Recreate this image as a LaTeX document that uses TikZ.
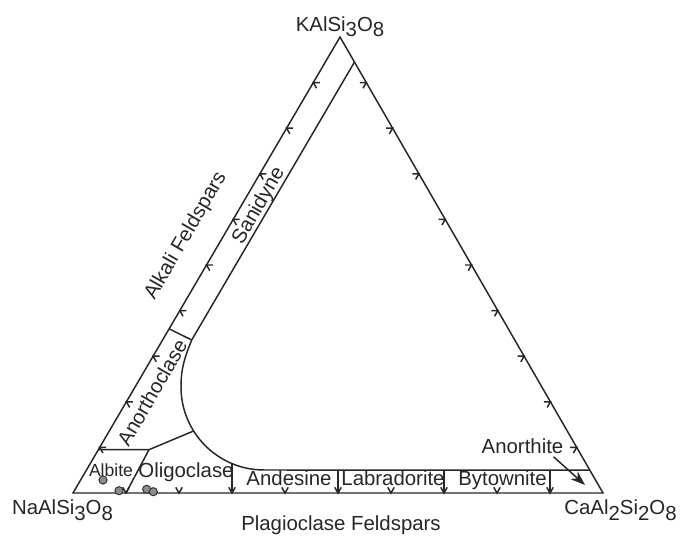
\documentclass[tikz,border=0pt]{standalone}
\usepackage{fontspec}
\setmainfont{Liberation Sans}
\usetikzlibrary{calc,arrows.meta}

\newcommand{\low}[1]{\raisebox{-0.27em}{#1}}

\begin{document}
\begin{tikzpicture}[
    x=0.025cm, y=0.025cm,
    edge/.style={line width=1.05pt, draw=black!85},
    lbl/.style={font=\fontsize{14.5}{17}\selectfont, text=black!85, inner sep=0pt},
    chev/.pic={\draw[edge] (150:6.5) -- (0,0) -- (210:6.5);},
    dot/.style={circle, draw=black!80, fill=black!45, line width=0.7pt, inner sep=0pt, minimum size=5.8pt},
    arrow/.style={-{Stealth[length=10.5pt, width=7.5pt]}, edge},
]
\useasboundingbox (0,0) rectangle (688,537);

% corners of the triangle
\coordinate (Ab) at (73,44);
\coordinate (An) at (603,44);
\coordinate (Or) at (340,500);
\draw[edge, line join=miter] (Ab) -- (An) -- (Or) -- cycle;

% ticks every 10%
\foreach \i in {1,...,9} {
  \pic[rotate=270] at ($(Ab)!\i/10!(An)$) {chev};
  \pic[rotate=30] at ($(An)!\i/10!(Or)$) {chev};
  \pic[rotate=150] at ($(Or)!\i/10!(Ab)$) {chev};
}

% field boundaries
\coordinate (s1) at ($(Or)!0.055!(An)$);
\coordinate (s0) at ($(Ab)!0.055!(An)$);
\coordinate (s2) at ($(s1)!0.645!(s0)$);
\coordinate (a1) at ($(Ab)!0.36!(Or)$);
\coordinate (ctr) at (264,150);
\coordinate (p95) at ($(Or)!0.95!(An)$);
\draw[edge] (s1) -- (s2) to[out=248,in=90] (181,150)
    arc[start angle=180, end angle=270, radius=83] -- (p95);
\draw[edge] (s2) -- (a1);

\coordinate (ab1) at ($(Ab)!0.095!(Or)$);
\coordinate (ab2) at (149,87.3);
\draw[edge] (ab1) -- (ab2) -- ($(ctr)+(212:83)$);
\draw[edge] (ab2) -- ($(Ab)!0.1!(An)$);

% plagioclase dividers
\foreach \i/\h in {3/29,5/23,7/23,9/23}
  \draw[edge] ($(Ab)!\i/10!(An)$) -- ++(0,\h);

% samples
\foreach \p [count=\k] in {(103,57),(119,46.3),(146.7,47.7),(153.3,45.3)}
  \node[dot] (g\k) at \p {};

% end members
\node[lbl, anchor=south] (orlbl) at (Or) {KAlSi\low{3}O\low{8}};
\node[lbl, anchor=north] (ablbl) at (62.5,37.5) {NaAlSi\low{3}O\low{8}};
\node[lbl, anchor=north] (anlbl) at (620.5,37.5) {CaAl\low{2}Si\low{2}O\low{8}};

% series
\node[lbl, anchor=north] (plag) at (341,21.3) {Plagioclase Feldspars};
\node[lbl, rotate=60] (alk) at (186,301) {Alkali Feldspars};

% fields
\node[lbl, rotate=60] (san) at (259,331) {Sanidyne};
\node[lbl, rotate=60] (ano) at (152,144.5) {Anorthoclase};
\node[lbl, font=\fontsize{12.5}{14}\selectfont] (alb) at (111,66.5) {Albite};
\node[lbl, anchor=base] (oli) at (186,59.3) {Oligoclase};
\node[lbl, anchor=base] (and) at (289,51) {Andesine};
\node[lbl, anchor=base] (lab) at (393,51) {Labradorite};
\node[lbl, anchor=base] (byt) at (502.5,51) {Bytownite};
\node[lbl, anchor=base] (ant) at (522.5,83.7) {Anorthite};

\coordinate (antip) at (585,52);
\draw[arrow] ($(ant.south east)+(-10,-3)$) -- (antip);
\end{tikzpicture}
\end{document}
